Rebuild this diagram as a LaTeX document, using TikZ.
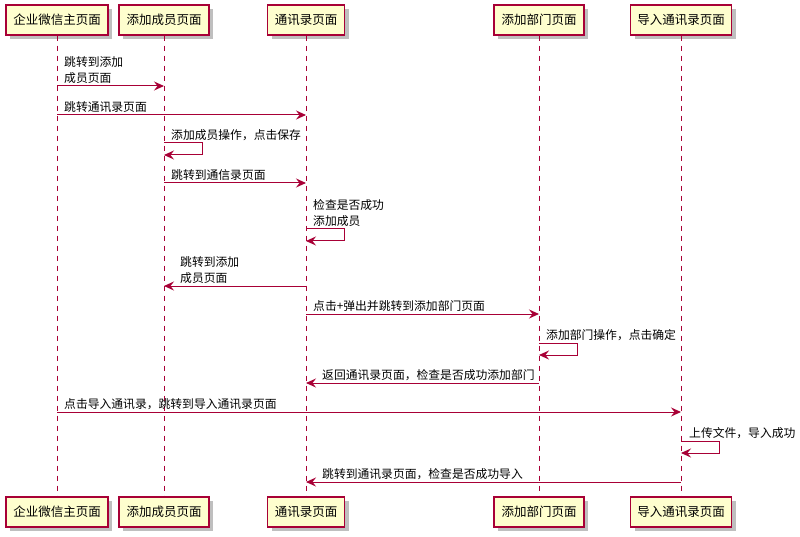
\documentclass[tikz,border=0pt]{standalone}
\usepackage{fontspec}
\setmainfont{Noto Sans CJK SC}
\usetikzlibrary{arrows.meta,shadows}
\definecolor{pumlred}{HTML}{A80036}
\definecolor{pumlfill}{HTML}{FEFECE}
\begin{document}
\begin{tikzpicture}[x=1pt,y=-1pt,
 participant/.style={draw=pumlred, line width=1.4pt, fill=pumlfill, minimum height=30pt, inner sep=0pt,
   font=\fontsize{12.5}{15}\selectfont, text=black,
   drop shadow={shadow xshift=4pt, shadow yshift=-4pt, fill=black, opacity=0.25}},
 lifeline/.style={draw=pumlred, line width=0.9pt, dash pattern=on 5pt off 5pt},
 msg/.style={draw=pumlred, line width=1pt, -{Stealth[length=10pt,width=9pt,inset=3.5pt]}},
 lbl/.style={anchor=south west, inner sep=0pt, align=left, text=black, font=\fontsize{11.8}{16}\selectfont}]
\fill[white] (0,0) rectangle (800,537);
\useasboundingbox (0,0) rectangle (800,537);

% participants top
\node[participant, minimum width=102pt] (p1t) at (57,20) {企业微信主页面};
\node[participant, minimum width=90pt]  (p2t) at (164,20) {添加成员页面};
\node[participant, minimum width=77pt]  (p3t) at (306,20) {通讯录页面};
\node[participant, minimum width=90pt]  (p4t) at (539,20) {添加部门页面};
\node[participant, minimum width=101pt] (p5t) at (681,20) {导入通讯录页面};
% participants bottom
\node[participant, minimum width=102pt] (p1b) at (57,512) {企业微信主页面};
\node[participant, minimum width=90pt]  (p2b) at (164,512) {添加成员页面};
\node[participant, minimum width=77pt]  (p3b) at (306,512) {通讯录页面};
\node[participant, minimum width=90pt]  (p4b) at (539,512) {添加部门页面};
\node[participant, minimum width=101pt] (p5b) at (681,512) {导入通讯录页面};

% lifelines
\foreach \i in {1,...,5} {\draw[lifeline] (p\i t.south) -- (p\i b.north);}

% messages
\draw[msg] (p1t |- 0,86) -- (p2t |- 0,86);
\node[lbl] (l1) at (64,84) {跳转到添加\\成员页面};

\draw[msg] (p1t |- 0,115) -- (p3t |- 0,115);
\node[lbl] (l2) at (64,113) {跳转通讯录页面};

\draw[msg] (p2t |- 0,143) -- ++(38,0) -- ++(0,12) -- (p2t |- 0,155);
\node[lbl] (l3) at (171,141) {添加成员操作，点击保存};

\draw[msg] (p2t |- 0,183) -- (p3t |- 0,183);
\node[lbl] (l4) at (171,181) {跳转到通信录页面};

\draw[msg] (p3t |- 0,229) -- ++(38,0) -- ++(0,12) -- (p3t |- 0,241);
\node[lbl] (l5) at (313,227) {检查是否成功\\添加成员};

\draw[msg] (p3t |- 0,286) -- (p2t |- 0,286);
\node[lbl] (l6) at (180,284) {跳转到添加\\成员页面};

\draw[msg] (p3t |- 0,314) -- (p4t |- 0,314);
\node[lbl] (l7) at (313,312) {点击+弹出并跳转到添加部门页面};

\draw[msg] (p4t |- 0,343) -- ++(38,0) -- ++(0,12) -- (p4t |- 0,355);
\node[lbl] (l8) at (546,341) {添加部门操作，点击确定};

\draw[msg] (p4t |- 0,383) -- (p3t |- 0,383);
\node[lbl] (l9) at (322,381) {返回通讯录页面，检查是否成功添加部门};

\draw[msg] (p1t |- 0,412) -- (p5t |- 0,412);
\node[lbl] (l10) at (64,410) {点击导入通讯录，跳转到导入通讯录页面};

\draw[msg] (p5t |- 0,441) -- ++(38,0) -- ++(0,12) -- (p5t |- 0,453);
\node[lbl] (l11) at (689,439) {上传文件，导入成功};

\draw[msg] (p5t |- 0,482) -- (p3t |- 0,482);
\node[lbl] (l12) at (322,480) {跳转到通讯录页面，检查是否成功导入};
\end{tikzpicture}
\end{document}
